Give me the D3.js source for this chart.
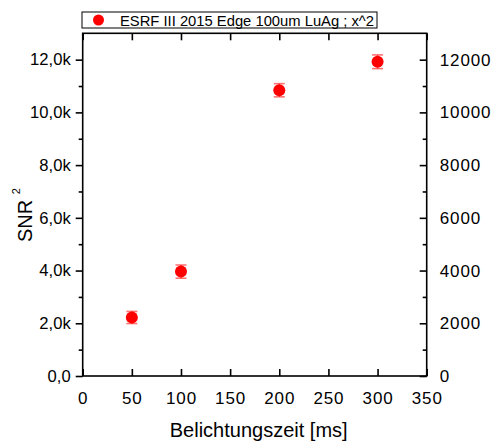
<!DOCTYPE html>
<html><head><meta charset="utf-8">
<script src="https://cdn.jsdelivr.net/npm/d3@7"></script>
<style>body{margin:0;background:#fff}svg{display:block}text{font-family:"Liberation Sans",Arial,sans-serif;fill:#000}</style>
</head><body>
<svg id="c" width="494" height="441"></svg>
<script>
const exposure = [50, 100, 200, 300];
const snr2 = [2220, 3960, 10840, 11920];
const snr2Err = [230, 250, 250, 260];
const xTicks = [0, 50, 100, 150, 200, 250, 300, 350];
const yTicks = [0, 2000, 4000, 6000, 8000, 10000, 12000];
const yMinorTicks = [1000, 3000, 5000, 7000, 9000, 11000];
const yLeftLabels = ["0,0", "2,0k", "4,0k", "6,0k", "8,0k", "10,0k", "12,0k"];
const legendLabel = "ESRF III 2015 Edge 100um LuAg ; x^2";

const svg = d3.select("#c");
const L = 82.7, R = 426.7, T = 33.3, B = 376;
const x = d3.scaleLinear().domain([0, 350]).range([L, R]);
const y = d3.scaleLinear().domain([0, 13000]).range([B, T]);
const sw = 1.6;

// frame
svg.append("rect").attr("x", L).attr("y", T).attr("width", R - L).attr("height", B - T)
  .attr("fill", "none").attr("stroke", "#000").attr("stroke-width", sw);

function styleAxis(g) {
  g.select(".domain").remove();
  g.selectAll("line").attr("stroke", "#000").attr("stroke-width", sw);
}
// bottom axis (ticks inward)
svg.append("g").attr("transform", `translate(0,${B})`)
  .call(d3.axisBottom(x).tickValues(xTicks).tickSizeInner(-7).tickSizeOuter(0).tickPadding(16).tickFormat(d3.format("d")))
  .call(styleAxis)
  .call(g => g.selectAll("text").attr("font-size", 17).attr("letter-spacing", 0.9)
    .attr("font-family", "Liberation Sans, Arial"));
// top axis
svg.append("g").attr("transform", `translate(0,${T})`)
  .call(d3.axisTop(x).tickValues(xTicks).tickSizeInner(-7).tickSizeOuter(0).tickFormat(""))
  .call(styleAxis);
// left axis (outward)
svg.append("g").attr("transform", `translate(${L},0)`)
  .call(d3.axisLeft(y).tickValues(yTicks).tickSizeInner(7).tickSizeOuter(0).tickPadding(5)
    .tickFormat((d, i) => yLeftLabels[i]))
  .call(styleAxis)
  .call(g => g.selectAll("text").attr("font-size", 16.6).attr("font-family", "Liberation Sans, Arial"));
svg.append("g").attr("transform", `translate(${L},0)`)
  .call(d3.axisLeft(y).tickValues(yMinorTicks).tickSizeInner(4).tickSizeOuter(0).tickFormat(""))
  .call(styleAxis);
// right axis (inward)
svg.append("g").attr("transform", `translate(${R},0)`)
  .call(d3.axisRight(y).tickValues(yTicks).tickSizeInner(-7).tickSizeOuter(0).tickPadding(13).tickFormat(d3.format("d")))
  .call(styleAxis)
  .call(g => g.selectAll("text").attr("font-size", 17).attr("letter-spacing", 0.9)
    .attr("font-family", "Liberation Sans, Arial"));
svg.append("g").attr("transform", `translate(${R},0)`)
  .call(d3.axisRight(y).tickValues(yMinorTicks).tickSizeInner(-4).tickSizeOuter(0).tickFormat(""))
  .call(styleAxis);

// axis titles
svg.append("text").attr("x", 258.7).attr("y", 436.5).attr("text-anchor", "middle")
  .attr("font-size", 20).text("Belichtungszeit [ms]");
const yt = svg.append("text").attr("transform", "translate(31.5,242) rotate(-90)").attr("text-anchor", "start")
  .attr("font-size", 20);
yt.append("tspan").text("SNR ");
yt.append("tspan").attr("font-size", 11).attr("dy", -12).text("2");

// data
const data = exposure.map((e, i) => ({ e, v: snr2[i], err: snr2Err[i] }));
const eb = svg.append("g").attr("stroke", "#ff0000").attr("stroke-opacity", 0.55).attr("stroke-width", 1.6);
data.forEach(d => {
  const cx = x(d.e);
  eb.append("line").attr("x1", cx).attr("x2", cx).attr("y1", y(d.v - d.err)).attr("y2", y(d.v + d.err));
  eb.append("line").attr("x1", cx - 5.5).attr("x2", cx + 5.5).attr("y1", y(d.v - d.err)).attr("y2", y(d.v - d.err));
  eb.append("line").attr("x1", cx - 5.5).attr("x2", cx + 5.5).attr("y1", y(d.v + d.err)).attr("y2", y(d.v + d.err));
});
svg.append("g").selectAll("circle").data(data).join("circle")
  .attr("cx", d => x(d.e)).attr("cy", d => y(d.v)).attr("r", 6).attr("fill", "#ff0000");

// legend
svg.append("rect").attr("x", 82).attr("y", 12).attr("width", 295).attr("height", 16)
  .attr("fill", "#fff").attr("stroke", "#000").attr("stroke-width", 1);
svg.append("circle").attr("cx", 98.5).attr("cy", 20).attr("r", 5.5).attr("fill", "#ff0000");
svg.append("text").attr("x", 120).attr("y", 25.5).attr("font-size", 15)
  .attr("textLength", 254).attr("lengthAdjust", "spacingAndGlyphs").text(legendLabel);
</script>
</body></html>
